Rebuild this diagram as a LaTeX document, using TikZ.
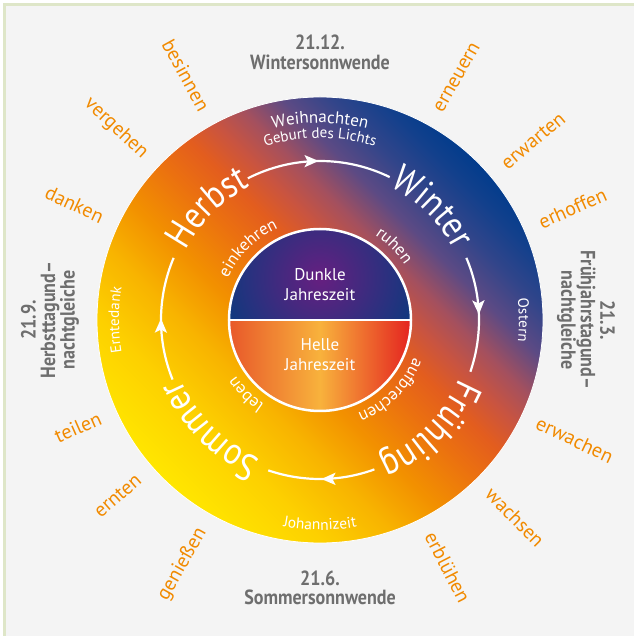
\documentclass[tikz,border=0pt]{standalone}
\usepackage{fontspec}
\setmainfont{PT Sans}
\newfontfamily\condf[FakeStretch=0.86]{PT Sans}
\newfontfamily\datef[FakeStretch=0.88]{PT Sans}
\usetikzlibrary{decorations.text,decorations.markings,arrows.meta}
\definecolor{bgcol}{HTML}{F4F4F4}
\definecolor{framecol}{HTML}{DEE6C8}
\definecolor{wordorange}{HTML}{F18A00}
\definecolor{dategray}{HTML}{6E6E6E}
\definecolor{c1}{HTML}{FFE600}
\definecolor{c2}{HTML}{FDD000}
\definecolor{c3}{HTML}{F8B400}
\definecolor{c4}{HTML}{F29000}
\definecolor{c5}{HTML}{EB7010}
\definecolor{c6}{HTML}{E35D1E}
\definecolor{c7}{HTML}{C95440}
\definecolor{c8}{HTML}{A4505E}
\definecolor{c9}{HTML}{5C4A84}
\definecolor{c10}{HTML}{32458A}
\definecolor{c11}{HTML}{12408C}
\definecolor{c12}{HTML}{033C8C}
\definecolor{dpurple}{HTML}{661F80}
\definecolor{dnavy}{HTML}{0B3A7E}
\definecolor{h1}{HTML}{E8582A}
\definecolor{h2}{HTML}{F8B23C}
\definecolor{h3}{HTML}{E42320}
\pgfdeclareverticalshading{ringshade}{100bp}{color(0bp)=(c1); color(25bp)=(c1); color(32.6bp)=(c2); color(38.8bp)=(c3); color(44.4bp)=(c4); color(50bp)=(c5); color(53.9bp)=(c6); color(57.3bp)=(c7); color(60.6bp)=(c8); color(64.6bp)=(c9); color(68.5bp)=(c10); color(72.4bp)=(c11); color(75bp)=(c12); color(100bp)=(c12)}
\pgfdeclarehorizontalshading{helleshade}{100bp}{color(0bp)=(h1); color(25bp)=(h1); color(50bp)=(h2); color(75bp)=(h3); color(100bp)=(h3)}
\tikzset{
  outerword/.style={text=wordorange, font=\fontsize{20}{20}\selectfont, inner sep=0pt},
  datetext/.style={text=dategray, font=\datef\bfseries\fontsize{20.5}{19.5}\selectfont, align=center, inner sep=0pt},
  centertext/.style={text=white, font=\fontsize{17}{20}\selectfont, align=center, inner sep=0pt},
  arrowring/.style={white, line width=2.2pt,
    postaction={decorate, decoration={markings, mark=at position 0.5 with {\arrow{Stealth[length=14pt,width=12pt,inset=3pt]}}}}},
  seasontext/.style={decorate, decoration={text along path, text align=center, text color=white,
    text={|\condf\fontsize{38}{38}\selectfont|#1}}},
  innerword/.style={decorate, decoration={text along path, text align=center, text color=white,
    text={|\fontsize{17}{17}\selectfont|#1}}},
  smallword/.style 2 args={decorate, decoration={text along path, text align=center, text color=white,
    text={|\fontsize{#2}{#2}\selectfont|#1}}}
}
\begin{document}
\begin{tikzpicture}[x=1pt,y=1pt]
\useasboundingbox (-320,-316) rectangle (314,320);
\fill[white] (-320,-316) rectangle (314,320);
\fill[bgcol] (-317,-316) rectangle (314,317);
\draw[framecol, line width=3pt] (-315.5,-316) -- (-315.5,315.5) -- (314,315.5);

% outer ring
\shade[shading=ringshade, shading angle=-45] (0,0) circle (223);
\draw[white, line width=0.8pt] (0,0) circle (223);

% inner disc
\begin{scope}
  \clip (-91,0) arc[start angle=180, end angle=0, radius=91] -- cycle;
  \shade[inner color=dpurple, outer color=dnavy] (0,42) circle (105);
\end{scope}
\shade[shading=helleshade] (-91,0) arc[start angle=180, end angle=360, radius=91] -- cycle;
\draw[white, line width=2.5pt] (0,0) circle (91);
\draw[white, line width=2.5pt] (-91,0) -- (91,0);
\node[centertext] (dunkle) at (0,35) {Dunkle\\Jahreszeit};
\node[centertext] (helle) at (0,-35) {Helle\\Jahreszeit};

% arrows
\draw[arrowring] (117:159) arc[start angle=117, end angle=64, radius=159];
\draw[arrowring] (23:159) arc[start angle=23, end angle=-19, radius=159];
\draw[arrowring] (-70:159) arc[start angle=-70, end angle=-109, radius=159];
\draw[arrowring] (202:159) arc[start angle=202, end angle=157, radius=159];

% season words
\path[seasontext=Winter] (90:151) arc[start angle=90, end angle=0, radius=151];
\path[seasontext=Herbst] (180:151) arc[start angle=180, end angle=90, radius=151];
\path[seasontext=Frühling] (0:151) arc[start angle=0, end angle=-90, radius=151];
\path[seasontext=Sommer] (270:151) arc[start angle=270, end angle=180, radius=151];

% inner words
\path[innerword=einkehren] (180:101) arc[start angle=180, end angle=90, radius=101];
\path[innerword=ruhen] (90:101) arc[start angle=90, end angle=0, radius=101];
\path[innerword=aufbrechen] (0:101) arc[start angle=0, end angle=-90, radius=101];
\path[innerword=leben] (270:101) arc[start angle=270, end angle=180, radius=101];

% ring labels
\path[smallword={Weihnachten}{17}] (135:197) arc[start angle=135, end angle=45, radius=197];
\path[smallword={Geburt des Lichts}{15}] (135:182) arc[start angle=135, end angle=45, radius=182];
\path[smallword={Ostern}{15}] (45:199) arc[start angle=45, end angle=-45, radius=199];
\path[smallword={Erntedank}{15}] (225:201) arc[start angle=225, end angle=135, radius=201];
\path[smallword={Johannizeit}{15.5}] (225:210) arc[start angle=225, end angle=315, radius=210];

% dates
\node[datetext] (wsw) at (0,267.5) {21.12.\\Wintersonnwende};
\node[datetext] (ssw) at (0,-268) {21.6.\\Sommersonnwende};
\node[datetext, rotate=90] (htg) at (-270,0) {21.9.\\Herbsttagund–\\nachtgleiche};
\node[datetext, rotate=-90] (ftg) at (266,0) {21.3.\\Frühjahrstagund–\\nachtgleiche};

% outer words, left
\node[outerword, anchor=east, rotate=118.7-180] (besinnen) at (118.7:240) {besinnen};
\node[outerword, anchor=east, rotate=136.8-180] (vergehen) at (136.8:240) {vergehen};
\node[outerword, anchor=east, rotate=154.8-180] (danken) at (154.8:240) {danken};
\node[outerword, anchor=east, rotate=203.9-180] (teilen) at (203.9:240) {teilen};
\node[outerword, anchor=east, rotate=221-180] (ernten) at (221:240) {ernten};
\node[outerword, anchor=east, rotate=240.6-180] (geniessen) at (240.6:240) {genießen};
% outer words, right
\node[outerword, anchor=west, rotate=60.5] (erneuern) at (60.5:240) {erneuern};
\node[outerword, anchor=west, rotate=40] (erwarten) at (40:240) {erwarten};
\node[outerword, anchor=west, rotate=23.9] (erhoffen) at (23.9:240) {erhoffen};
\node[outerword, anchor=west, rotate=-25.2] (erwachen) at (-25.2:240) {erwachen};
\node[outerword, anchor=west, rotate=-45.3] (wachsen) at (-45.3:240) {wachsen};
\node[outerword, anchor=west, rotate=-62.7] (erbluehen) at (-62.7:240) {erblühen};
\end{tikzpicture}
\end{document}
